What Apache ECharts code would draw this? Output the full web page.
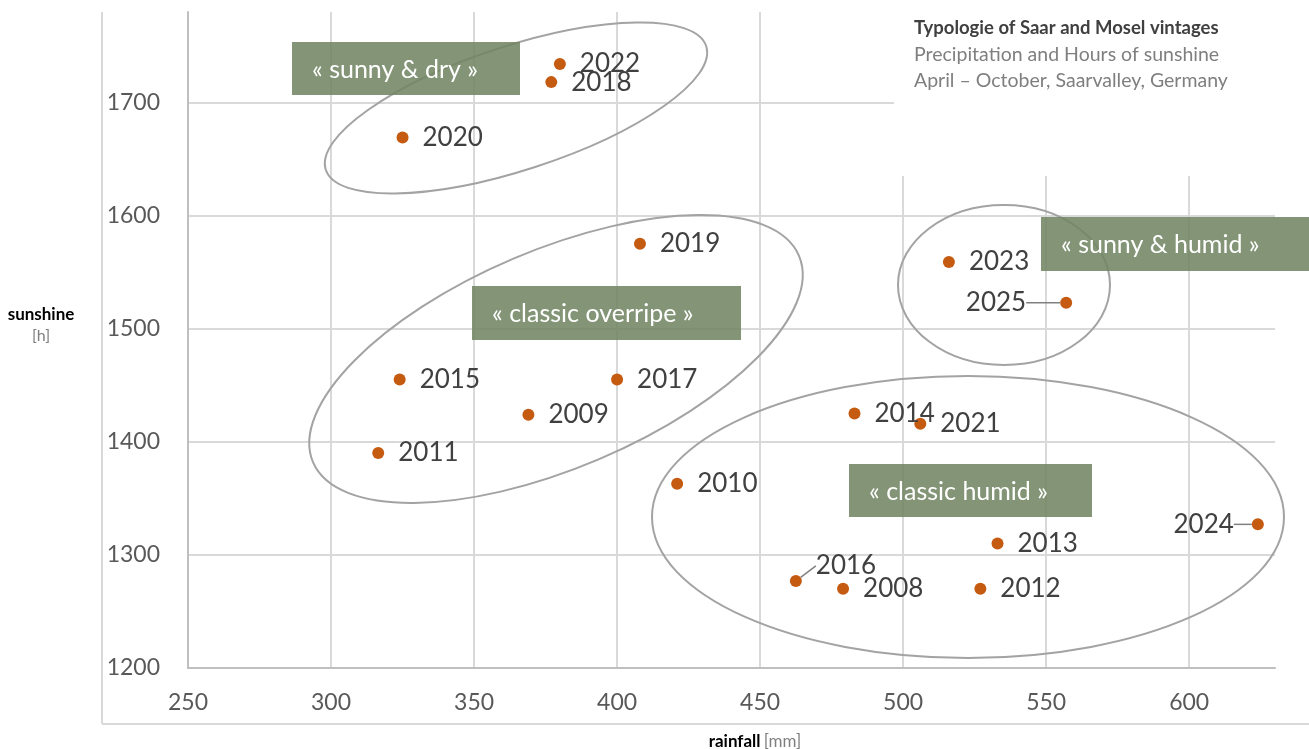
<!DOCTYPE html>
<html>
<head>
<meta charset="utf-8">
<title>Typologie of Saar and Mosel vintages</title>
<script src="https://cdn.jsdelivr.net/npm/echarts@6/dist/echarts.min.js"></script>
<style>
  html, body { margin: 0; padding: 0; background: #fff; }
  #chart { width: 1309px; height: 749px; }
</style>
</head>
<body>
<div id="chart"></div>
<script>
// vintages, rainfall April-October [mm], sunshine April-October [h]
var years    = ['2008', '2009', '2010', '2011', '2012', '2013', '2014', '2015', '2016',
                '2017', '2018', '2019', '2020', '2021', '2022', '2023', '2024', '2025'];
var rainfall = [479, 369, 421, 316.5, 527, 533, 483, 324, 462.5,
                400, 377, 408, 325, 506, 380, 516, 624, 557];
var sunshine = [1270, 1424, 1363, 1390, 1270, 1310, 1425, 1455, 1277,
                1455, 1718, 1575, 1669, 1416, 1734, 1559, 1327, 1523];

// axis ticks
var xTicks = [250, 300, 350, 400, 450, 500, 550, 600];
var yTicks = [1200, 1300, 1400, 1500, 1600, 1700];

// labels that sit left of the dot / are pulled away with a leader line
var labelLeft  = { '2024': 8, '2025': 14 };
var labelShift = { '2016': [0, -15], '2024': [-10, 0], '2025': [-20, 0] };

var font = 'Lato';
var boxFill = 'rgba(112, 133, 98, 0.87)';
var ringColor = '#a3a3a3';

var points = years.map(function (y, i) {
  var item = { name: y, value: [rainfall[i], sunshine[i]] };
  if (labelLeft[y] != null) item.label = { position: 'left', distance: labelLeft[y] };
  if (labelShift[y]) item.labelLine = { show: true };
  return item;
});

var myChart = echarts.init(document.getElementById('chart'));

function ring(cx, cy, rx, ry, deg) {
  return {
    type: 'ellipse', x: cx, y: cy, rotation: deg * Math.PI / 180, z: 3,
    shape: { cx: 0, cy: 0, rx: rx, ry: ry },
    style: { fill: null, stroke: ringColor, lineWidth: 2 }
  };
}
function box(x, y, w, h, txt) {
  return [
    { type: 'rect', z: 4, shape: { x: x, y: y, width: w, height: h }, style: { fill: boxFill } },
    { type: 'text', z: 5, style: { x: x + 20, y: y + h / 2 + 1, text: txt, font: '25px ' + font,
      fill: '#fff', align: 'left', verticalAlign: 'middle' } }
  ];
}

var graphics = [
  // outer frame of the picture
  { type: 'line', z: 1, shape: { x1: 102, y1: 12, x2: 102, y2: 724 }, style: { stroke: '#d9d9d9', lineWidth: 2 } },
  { type: 'line', z: 1, shape: { x1: 102, y1: 724, x2: 1309, y2: 724 }, style: { stroke: '#d9d9d9', lineWidth: 2 } },
  // white area behind the title
  { type: 'rect', z: 2, shape: { x: 894, y: 0, width: 415, height: 176 }, style: { fill: '#fff' } },
  { type: 'text', z: 6, style: { x: 914, y: 28, text: 'Typologie of Saar and Mosel vintages',
    font: 'bold 18.5px ' + font, fill: '#404040', verticalAlign: 'middle' } },
  { type: 'text', z: 6, style: { x: 914, y: 55, text: 'Precipitation and Hours of sunshine',
    font: '19.5px ' + font, fill: '#7f7f7f', verticalAlign: 'middle' } },
  { type: 'text', z: 6, style: { x: 914, y: 81, text: 'April \u2013 October, Saarvalley, Germany',
    font: '19.5px ' + font, fill: '#7f7f7f', verticalAlign: 'middle' } },
  // axis names
  { type: 'text', z: 6, style: { x: 41, y: 315, text: 'sunshine', font: 'bold 17px ' + font,
    fill: '#000', align: 'center', verticalAlign: 'middle' } },
  { type: 'text', z: 6, style: { x: 41, y: 336, text: '[h]', font: '16px ' + font,
    fill: '#7f7f7f', align: 'center', verticalAlign: 'middle' } },
  { type: 'text', z: 6, style: { x: 755, y: 742, text: '{b|rainfall} {g|[mm]}', align: 'center',
    verticalAlign: 'middle', rich: {
      b: { font: 'bold 17px ' + font, fill: '#000' },
      g: { font: '17px ' + font, fill: '#7f7f7f' }
    } } },
  // groups
  ring(516, 108, 200, 62, 18),
  ring(556, 359, 264, 109, 23),
  ring(1004, 285, 106, 80, 0),
  ring(968, 517, 316, 141, 0)
].concat(
  box(292, 42, 228, 53, '\u00ab sunny & dry \u00bb'),
  box(472, 286, 269, 54, '\u00ab classic overripe \u00bb'),
  box(1041, 217, 268, 54, '\u00ab sunny & humid \u00bb'),
  box(849, 464, 243, 53, '\u00ab classic humid \u00bb')
);

var option = {
  backgroundColor: '#fff',
  animation: false,
  grid: { left: 188, right: 34, top: 12, bottom: 81 },
  xAxis: {
    type: 'value',
    min: xTicks[0],
    max: 630,
    interval: xTicks[1] - xTicks[0],
    axisLine: { show: true, lineStyle: { color: '#bfbfbf', width: 2 } },
    axisTick: { show: false },
    axisLabel: { fontFamily: font, fontSize: 23, color: '#595959', margin: 23, showMaxLabel: false,
      formatter: function (v) { return String(v); } },
    splitLine: { show: true, showMaxLine: false, lineStyle: { color: '#d9d9d9', width: 2 } }
  },
  yAxis: {
    type: 'value',
    min: yTicks[0],
    max: 1780,
    interval: yTicks[1] - yTicks[0],
    axisLine: { show: true, lineStyle: { color: '#bfbfbf', width: 2 } },
    axisTick: { show: false },
    axisLabel: { fontFamily: font, fontSize: 23, color: '#595959', margin: 28, showMaxLabel: false,
      formatter: function (v) { return String(v); } },
    splitLine: { show: true, showMaxLine: false, lineStyle: { color: '#d9d9d9', width: 2 } }
  },
  graphic: { elements: graphics },
  series: [{
    type: 'scatter',
    z: 10,
    symbolSize: 12,
    itemStyle: { color: '#c55a11', opacity: 1 },
    label: {
      show: true, position: 'right', distance: 14, formatter: '{b}',
      fontFamily: font, fontSize: 26, color: '#404040'
    },
    labelLine: { show: false, lineStyle: { color: '#808080', width: 1.5 } },
    labelLayout: function (p) {
      var s = labelShift[years[p.dataIndex]];
      return s ? { dx: s[0], dy: s[1] } : {};
    },
    data: points
  }]
};

myChart.setOption(option);
</script>
</body>
</html>
